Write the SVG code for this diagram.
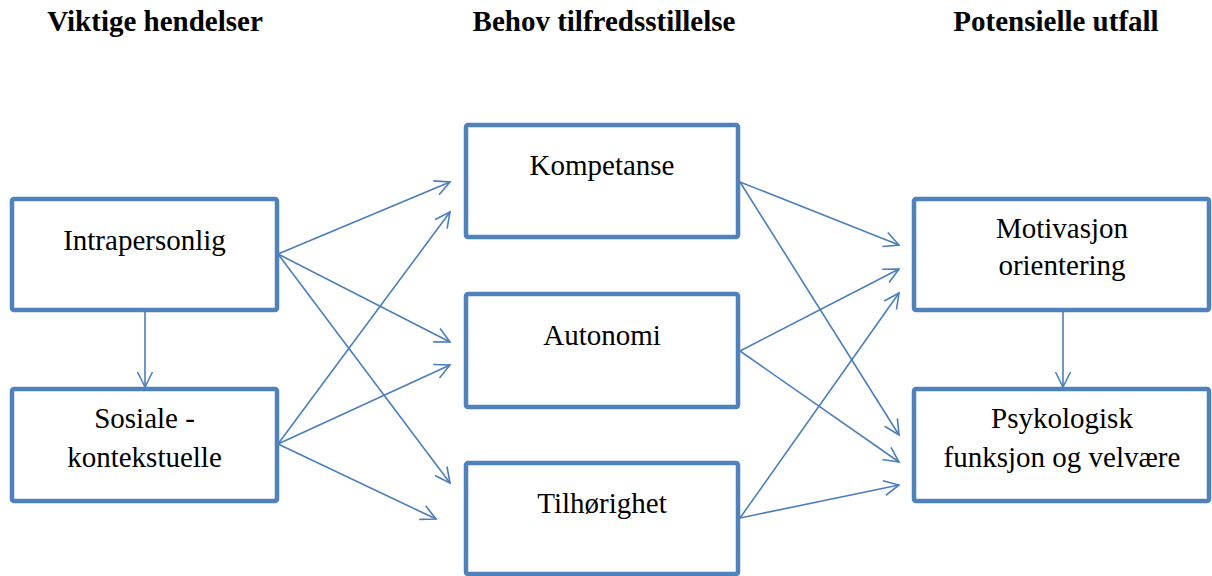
<svg xmlns="http://www.w3.org/2000/svg" width="1212" height="576" viewBox="0 0 1212 576">
<style>
.box{fill:#fff;stroke:#4F81BD;stroke-width:4.5}
.t{font-family:"Liberation Serif","Times New Roman",serif;font-size:29px;fill:#000;text-anchor:middle}
.h{font-family:"Liberation Serif","Times New Roman",serif;font-size:29px;font-weight:bold;fill:#000;text-anchor:middle}
.c{stroke:#4A7EBB;stroke-width:1.6;fill:none;marker-end:url(#arr)}
</style>
<defs>
<marker id="arr" markerUnits="userSpaceOnUse" markerWidth="30" markerHeight="30" refX="0" refY="0" viewBox="-20 -15 30 30" orient="auto">
<path d="M-15,-7.5 L0,0 L-15,7.5" fill="none" stroke="#4A7EBB" stroke-width="1.6"/>
</marker>
</defs>
<g id="headings">
<text class="h" x="155" y="31">Viktige hendelser</text>
<text class="h" x="604" y="31">Behov tilfredsstillelse</text>
<text class="h" x="1056" y="31">Potensielle utfall</text>
</g>
<g id="connectors">
<line class="c" x1="145" y1="312" x2="145" y2="387"/>
<line class="c" x1="1063" y1="312" x2="1063" y2="387"/>
<line class="c" x1="278" y1="254" x2="450" y2="182"/>
<line class="c" x1="278" y1="254" x2="450" y2="342"/>
<line class="c" x1="278" y1="254" x2="450" y2="483"/>
<line class="c" x1="278" y1="444" x2="450" y2="212"/>
<line class="c" x1="278" y1="444" x2="450" y2="365"/>
<line class="c" x1="278" y1="444" x2="436" y2="519"/>
<line class="c" x1="740" y1="182" x2="899" y2="245"/>
<line class="c" x1="740" y1="182" x2="899" y2="435"/>
<line class="c" x1="740" y1="351" x2="899" y2="269"/>
<line class="c" x1="740" y1="351" x2="899" y2="462"/>
<line class="c" x1="740" y1="518" x2="899" y2="293"/>
<line class="c" x1="740" y1="518" x2="899" y2="485"/>
</g>
<g id="intrapersonlig">
<rect class="box" x="12" y="199" width="265" height="111" rx="2"/>
<text class="t" x="144.5" y="250">Intrapersonlig</text>
</g>
<g id="sosiale">
<rect class="box" x="12" y="389" width="265" height="112" rx="2"/>
<text class="t" x="144.5" y="428">Sosiale -</text>
<text class="t" x="144.5" y="467">kontekstuelle</text>
</g>
<g id="kompetanse">
<rect class="box" x="466" y="125" width="272" height="112" rx="2"/>
<text class="t" x="602" y="175">Kompetanse</text>
</g>
<g id="autonomi">
<rect class="box" x="466" y="294" width="272" height="113" rx="2"/>
<text class="t" x="602" y="345">Autonomi</text>
</g>
<g id="tilhorighet">
<rect class="box" x="466" y="463" width="272" height="111" rx="2"/>
<text class="t" x="602" y="513">Tilhørighet</text>
</g>
<g id="motivasjon">
<rect class="box" x="914" y="199" width="295" height="111" rx="2"/>
<text class="t" x="1062" y="238">Motivasjon</text>
<text class="t" x="1062" y="275">orientering</text>
</g>
<g id="psykologisk">
<rect class="box" x="914" y="389" width="295" height="112" rx="2"/>
<text class="t" x="1062" y="428">Psykologisk</text>
<text class="t" x="1062" y="467">funksjon og velvære</text>
</g>
</svg>
